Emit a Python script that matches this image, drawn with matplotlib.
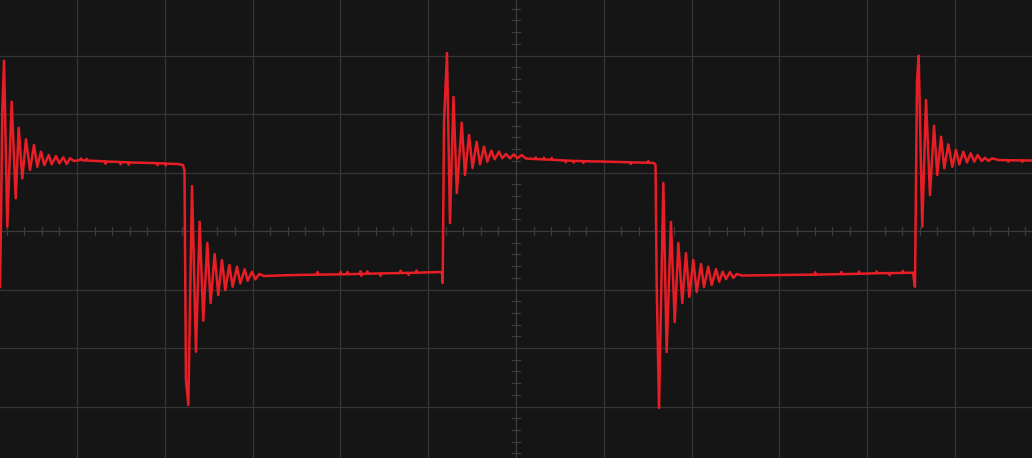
import numpy as np
import matplotlib
matplotlib.use("Agg")
import matplotlib.pyplot as plt

# Waveform read from the screen: time and voltage in screen divisions
# (centre of the screen = 0, 10 horizontal x 8 vertical divisions visible)
time_div = [
    # leading rising edge (already in progress at the left border)
    -5.877, -5.866, -5.851, -5.831, -5.794, -5.744, -5.698, -5.664, -5.623, -5.581,
    -5.535, -5.490, -5.452, -5.410, -5.372, -5.322, -5.288, -5.239, -5.201, -5.156,
    -5.117, -5.080, -5.034,
    # high plateau
    -4.966, -4.955, -4.944, -4.900, -4.890, -4.880,
    -4.681, -4.675, -4.669,
    -4.510, -4.503, -4.496, -4.419, -4.412, -4.405,
    -4.089, -4.082, -4.075, -3.998, -3.990, -3.982,
    -3.850, -3.793, -3.776,
    # falling edge + ringing
    -3.759, -3.732, -3.690, -3.645, -3.603, -3.562, -3.516, -3.478, -3.432, -3.391,
    -3.349, -3.311, -3.265, -3.227, -3.178, -3.140, -3.090, -3.056, -3.007, -2.969,
    -2.924, -2.870,
    # low plateau
    -2.600, -2.266, -2.259, -2.252, -2.005, -1.998, -1.991, -1.925, -1.918, -1.911,
    -1.777, -1.770, -1.763, -1.756, -1.700, -1.693, -1.686, -1.549, -1.542, -1.535,
    -1.321, -1.314, -1.307, -1.230, -1.223, -1.216, -1.139, -1.132, -1.125,
    -0.866, -0.843, -0.835,
    # rising edge + ringing
    -0.820, -0.786, -0.752, -0.712, -0.674, -0.618, -0.581, -0.535, -0.495, -0.448,
    -0.410, -0.364, -0.327, -0.281, -0.243, -0.194, -0.156, -0.114, -0.068, -0.026,
    0.015, 0.065, 0.114,
    # high plateau
    0.220, 0.227, 0.234, 0.310, 0.317, 0.324, 0.400, 0.407, 0.414,
    0.560, 0.567, 0.574, 0.650, 0.657, 0.664, 0.760, 0.767, 0.774,
    0.957, 1.300, 1.307, 1.314, 1.500, 1.507, 1.514, 1.572, 1.589,
    # falling edge + ringing
    1.602, 1.629, 1.678, 1.716, 1.765, 1.808, 1.849, 1.894, 1.936, 1.974,
    2.019, 2.058, 2.107, 2.141, 2.190, 2.229, 2.278, 2.315, 2.354, 2.392,
    2.437, 2.475, 2.514, 2.574,
    # low plateau
    2.900, 3.400, 3.407, 3.414, 3.700, 3.707, 3.714, 3.900, 3.907, 3.914,
    4.032, 4.100, 4.107, 4.114, 4.250, 4.257, 4.264, 4.400, 4.407, 4.414,
    4.522, 4.544,
    # rising edge + ringing
    4.556, 4.567, 4.586, 4.627, 4.670, 4.715, 4.761, 4.798, 4.841, 4.878,
    4.924, 4.969, 5.011, 5.049, 5.095, 5.137, 5.179, 5.220, 5.258, 5.304,
    5.342, 5.379, 5.425, 5.490,
    # high plateau to the right border
    5.600, 5.607, 5.614, 5.760, 5.767, 5.774, 5.877,
]

volt_div = [
    -0.957, 0.137, 2.017, 2.911, 0.074, 2.210, 0.559, 1.766, 0.901, 1.568,
    1.043, 1.470, 1.099, 1.356, 1.128, 1.299, 1.140, 1.282, 1.157, 1.260,
    1.145, 1.243, 1.197,
    1.214, 1.240, 1.210, 1.205, 1.235, 1.205,
    1.190, 1.150, 1.188,
    1.180, 1.140, 1.178, 1.175, 1.135, 1.172,
    1.160, 1.125, 1.158, 1.155, 1.120, 1.152,
    1.145, 1.128, 1.043,
    -2.547, -2.974, 0.769, -2.063, 0.159, -1.533, -0.205, -1.231, -0.393, -1.094,
    -0.496, -1.009, -0.581, -0.952, -0.610, -0.894, -0.655, -0.850, -0.696, -0.826,
    -0.735, -0.769,
    -0.755, -0.745, -0.700, -0.745, -0.740, -0.700, -0.740, -0.738, -0.698, -0.738,
    -0.733, -0.690, -0.765, -0.733, -0.730, -0.690, -0.730, -0.725, -0.765, -0.725,
    -0.718, -0.680, -0.718, -0.715, -0.750, -0.715, -0.712, -0.675, -0.712,
    -0.701, -0.709, -0.889,
    1.846, 3.043, 0.137, 2.291, 0.650, 1.851, 0.957, 1.641, 1.077, 1.526,
    1.140, 1.441, 1.185, 1.373, 1.226, 1.356, 1.243, 1.316, 1.243, 1.311,
    1.243, 1.299, 1.239,
    1.230, 1.260, 1.228, 1.225, 1.255, 1.222, 1.220, 1.250, 1.218,
    1.205, 1.175, 1.203, 1.200, 1.170, 1.198, 1.195, 1.165, 1.193,
    1.188, 1.175, 1.145, 1.173, 1.168, 1.195, 1.166, 1.162, 1.128,
    -0.889, -3.026, 0.821, -2.068, 0.154, -1.556, -0.205, -1.231, -0.376, -1.128,
    -0.496, -1.043, -0.564, -0.957, -0.610, -0.923, -0.650, -0.867, -0.696, -0.821,
    -0.701, -0.803, -0.735, -0.761,
    -0.755, -0.745, -0.705, -0.745, -0.737, -0.700, -0.737, -0.731, -0.695, -0.731,
    -0.726, -0.722, -0.690, -0.722, -0.719, -0.755, -0.719, -0.716, -0.682, -0.716,
    -0.713, -0.952,
    0.821, 2.552, 2.997, 0.074, 2.239, 0.615, 1.800, 0.957, 1.612, 1.072,
    1.482, 1.099, 1.385, 1.140, 1.356, 1.174, 1.328, 1.185, 1.299, 1.197,
    1.253, 1.197, 1.243, 1.214,
    1.210, 1.185, 1.210, 1.207, 1.185, 1.207, 1.205,
]

x_grid = [-5, -4, -3, -2, -1, 1, 2, 3, 4, 5]
y_grid = [-3, -2, -1, 1, 2, 3]

BG = "#151515"
GRID = "#353535"
AXIS = "#3c3c3c"
TRACE = "#e81e26"

fig = plt.figure(figsize=(10.32, 4.58), dpi=100, facecolor=BG)
ax = fig.add_axes([0, 0, 1, 1])
ax.set_facecolor(BG)
ax.set_xlim(-5.877, 5.877)
ax.set_ylim(-3.880, 3.949)
for s in ax.spines.values():
    s.set_visible(False)
ax.set_xticks([])
ax.set_yticks([])

for gx in x_grid:
    ax.axvline(gx, color=GRID, lw=0.9, zorder=1)
for gy in y_grid:
    ax.axhline(gy, color=GRID, lw=0.9, zorder=1)

# centre axes with minor division ticks
ax.axhline(0, color=AXIS, lw=0.9, zorder=1)
ax.axvline(0, color=AXIS, lw=0.9, zorder=1)
for tx in np.arange(-5.8, 5.81, 0.2):
    if abs(tx - round(tx)) < 1e-6:
        continue
    ax.plot([tx, tx], [-0.068, 0.068], color=AXIS, lw=0.9, zorder=1)
for ty in np.arange(-3.8, 3.91, 0.2):
    if abs(ty - round(ty)) < 1e-6:
        continue
    ax.plot([-0.046, 0.046], [ty, ty], color=AXIS, lw=0.9, zorder=1)

ax.plot(time_div, volt_div, color=TRACE, lw=1.8, zorder=3,
        solid_joinstyle="round")

fig.savefig("out.png", dpi=100, facecolor=BG)
